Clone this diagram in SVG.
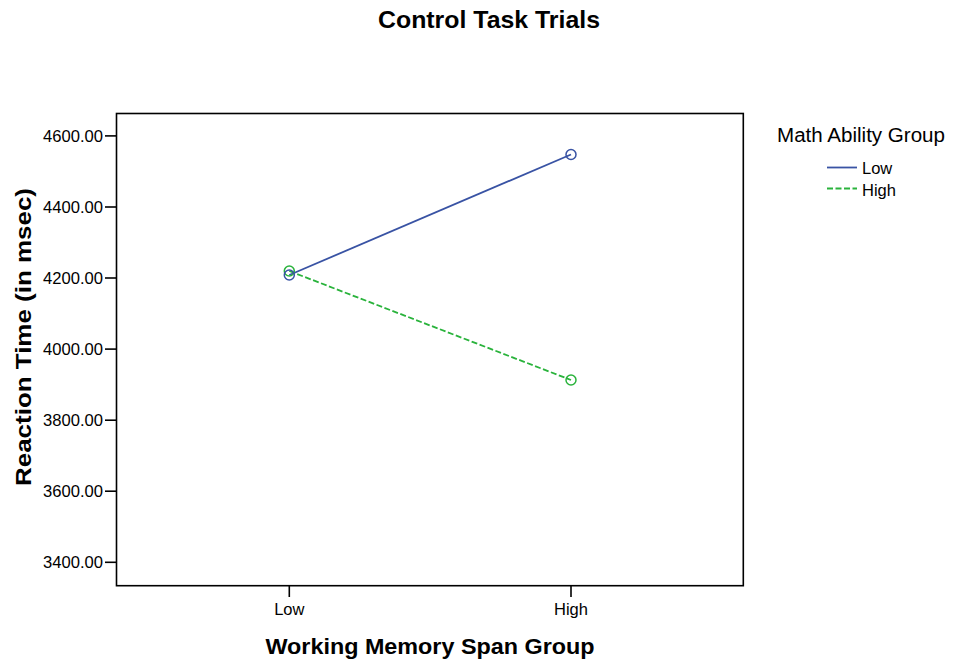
<svg xmlns="http://www.w3.org/2000/svg" width="956" height="665" viewBox="0 0 956 665">
  <style>
    text { font-family: "Liberation Sans", Arial, sans-serif; fill: #000; }
    .tick { font-size: 16.5px; }
    .title { font-size: 24px; font-weight: bold; }
    .axtitle { font-size: 22px; font-weight: bold; }
    .legtitle { font-size: 19.5px; }
    .legitem { font-size: 16.5px; }
    .axis { stroke: #000; stroke-width: 1.6; fill: none; }
    .low { stroke: #3953a4; stroke-width: 1.8; fill: none; }
    .high { stroke: #2ab33c; stroke-width: 1.8; fill: none; stroke-dasharray: 6 2.5; }
    .mk-low { stroke: #3953a4; stroke-width: 1.5; fill: none; }
    .mk-high { stroke: #2ab33c; stroke-width: 1.5; fill: none; }
  </style>

  <rect width="956" height="665" fill="#fff"/>

  <text class="title" x="489" y="28" text-anchor="middle" textLength="222" lengthAdjust="spacingAndGlyphs">Control Task Trials</text>

  <!-- plot frame -->
  <rect class="axis" x="116.5" y="113.5" width="626.8" height="472.2"/>

  <!-- y axis ticks and labels -->
  <g id="y-axis">
    <g class="axis">
      <line x1="105" y1="135.9" x2="116.5" y2="135.9"/>
      <line x1="105" y1="207.0" x2="116.5" y2="207.0"/>
      <line x1="105" y1="278.0" x2="116.5" y2="278.0"/>
      <line x1="105" y1="349.1" x2="116.5" y2="349.1"/>
      <line x1="105" y1="420.2" x2="116.5" y2="420.2"/>
      <line x1="105" y1="491.2" x2="116.5" y2="491.2"/>
      <line x1="105" y1="562.3" x2="116.5" y2="562.3"/>
    </g>
    <g text-anchor="end">
      <text x="103" y="142" class="tick" textLength="60" lengthAdjust="spacingAndGlyphs">4600.00</text>
      <text x="103" y="213.1" class="tick" textLength="60" lengthAdjust="spacingAndGlyphs">4400.00</text>
      <text x="103" y="284.1" class="tick" textLength="60" lengthAdjust="spacingAndGlyphs">4200.00</text>
      <text x="103" y="355.2" class="tick" textLength="60" lengthAdjust="spacingAndGlyphs">4000.00</text>
      <text x="103" y="426.3" class="tick" textLength="60" lengthAdjust="spacingAndGlyphs">3800.00</text>
      <text x="103" y="497.3" class="tick" textLength="60" lengthAdjust="spacingAndGlyphs">3600.00</text>
      <text x="103" y="568.4" class="tick" textLength="60" lengthAdjust="spacingAndGlyphs">3400.00</text>
    </g>
    <text class="axtitle" transform="translate(30.5,337) rotate(-90)" text-anchor="middle" textLength="298" lengthAdjust="spacingAndGlyphs">Reaction Time (in msec)</text>
  </g>

  <!-- x axis ticks and labels -->
  <g id="x-axis">
    <g class="axis">
      <line x1="289.3" y1="585.7" x2="289.3" y2="597"/>
      <line x1="571" y1="585.7" x2="571" y2="597"/>
    </g>
    <text class="tick" x="289.3" y="615" text-anchor="middle">Low</text>
    <text class="tick" x="571" y="615" text-anchor="middle">High</text>
    <text class="axtitle" x="430" y="654" text-anchor="middle" textLength="329" lengthAdjust="spacingAndGlyphs">Working Memory Span Group</text>
  </g>

  <!-- data series -->
  <g id="connectors">
    <line class="high" x1="289.3" y1="271" x2="571" y2="380"/>
    <line class="low" x1="289.3" y1="275" x2="571" y2="154.5"/>
  </g>
  <g id="series-high">
    <circle class="mk-high" cx="289.3" cy="271" r="5"/>
    <circle class="mk-high" cx="571" cy="380" r="5"/>
  </g>
  <g id="series-low">
    <circle class="mk-low" cx="289.3" cy="275" r="5"/>
    <circle class="mk-low" cx="571" cy="154.5" r="5"/>
  </g>

  <!-- legend -->
  <g id="legend">
    <text class="legtitle" x="777" y="142" textLength="168" lengthAdjust="spacingAndGlyphs">Math Ability Group</text>
    <line class="low" x1="827" y1="167.5" x2="857" y2="167.5"/>
    <text class="legitem" x="862" y="174">Low</text>
    <line class="high" x1="827" y1="188.5" x2="857" y2="188.5" stroke-dasharray="5 2.5"/>
    <text class="legitem" x="862" y="195.5">High</text>
  </g>
</svg>
